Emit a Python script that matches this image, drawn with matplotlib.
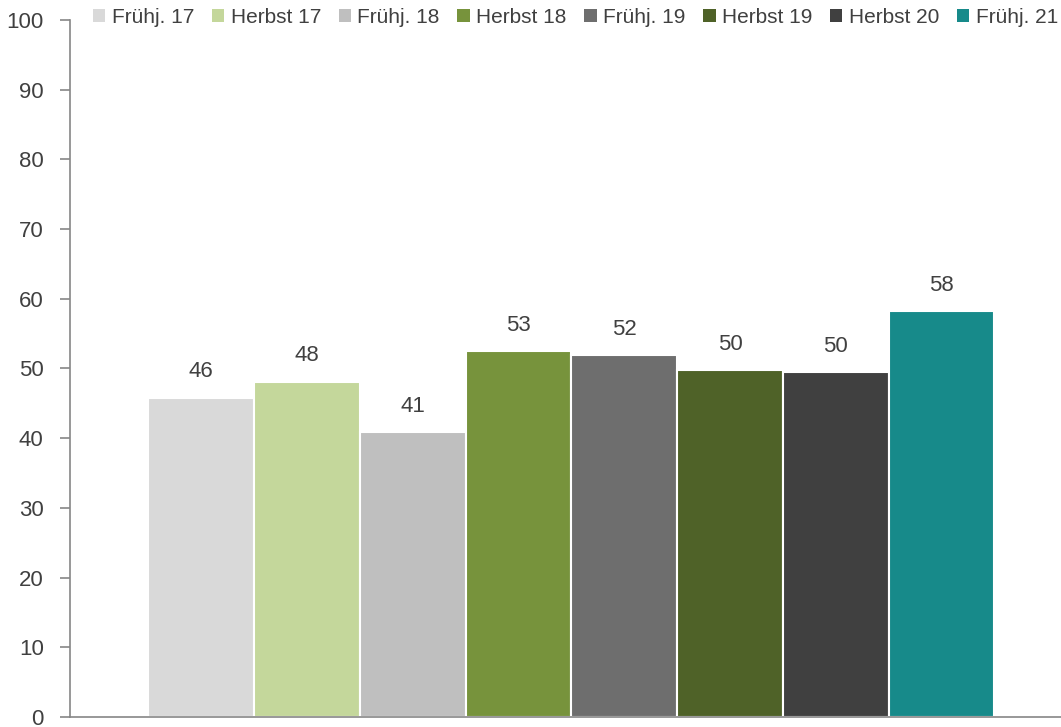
import matplotlib
matplotlib.use("Agg")
import matplotlib.pyplot as plt
from matplotlib.patches import Patch

categories = ["Frühj. 17", "Herbst 17", "Frühj. 18", "Herbst 18",
              "Frühj. 19", "Herbst 19", "Herbst 20", "Frühj. 21"]
values = [45.8, 48.1, 40.9, 52.5, 51.9, 49.8, 49.5, 58.2]
labels = ["46", "48", "41", "53", "52", "50", "50", "58"]
colors = ["#D9D9D9", "#C4D79B", "#BFBFBF", "#77933C",
          "#6E6E6E", "#4F6228", "#404040", "#178A8A"]
yticks = [0, 10, 20, 30, 40, 50, 60, 70, 80, 90, 100]

plt.rcParams['font.family'] = ['Liberation Sans', 'DejaVu Sans']

fig = plt.figure(figsize=(10.61, 7.27), dpi=100)
ax = fig.add_axes([0.0660, 0.0138, 0.9340, 0.9587])

x = list(range(len(values)))
ax.bar(x, values, width=1.0, color=colors, edgecolor="white", linewidth=1.5)
for xi, v, lab in zip(x, values, labels):
    ax.annotate(lab, (xi, v), xytext=(0, 11), textcoords="offset points",
                ha="center", va="bottom", fontsize=16, color="#404040")

ax.set_xlim(-1.24, 8.13)
ax.set_ylim(0, 100)
ax.set_yticks(yticks)
ax.set_yticklabels([str(t) for t in yticks], fontsize=16, color="#404040")
ax.set_xticks([])
for s in ["top", "right"]:
    ax.spines[s].set_visible(False)
for s in ["left", "bottom"]:
    ax.spines[s].set_color("#868686")
    ax.spines[s].set_linewidth(1.2)
ax.tick_params(axis="y", length=7, width=1.2, color="#868686", pad=12)

handles = [Patch(facecolor=c, edgecolor="none") for c in colors]
leg = fig.legend(handles, categories, loc="center right", bbox_to_anchor=(0.997, 0.976),
                 ncol=8, frameon=False, fontsize=15, handlelength=0.6, handleheight=0.6,
                 handletextpad=0.3, columnspacing=0.85, borderaxespad=0.0, borderpad=0.0)
for t in leg.get_texts():
    t.set_color("#404040")

fig.savefig("out.png", dpi=100)
